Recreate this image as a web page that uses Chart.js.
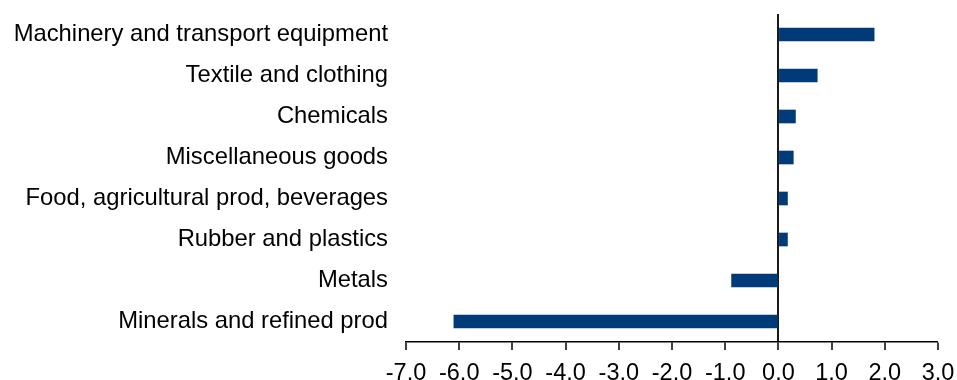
<!DOCTYPE html>
<html>
<head>
<meta charset="utf-8">
<script src="https://cdn.jsdelivr.net/npm/chart.js@4.4.1/dist/chart.umd.min.js"></script>
<style>
  html, body { margin: 0; padding: 0; background: #ffffff; }
  #wrap { width: 957px; height: 380px; }
</style>
</head>
<body>
<div id="wrap"><canvas id="chart"></canvas></div>
<script>
/* Change by product group, horizontal bars around a zero line */
const categories = [
    'Machinery and transport equipment',
    'Textile and clothing',
    'Chemicals',
    'Miscellaneous goods',
    'Food, agricultural prod, beverages',
    'Rubber and plastics',
    'Metals',
    'Minerals and refined prod',
];
const changeValues = [1.8, 0.73, 0.32, 0.28, 0.17, 0.17, -0.88, -6.1];
const xTicks = [-7, -6, -5, -4, -3, -2, -1, 0, 1, 2, 3];

const barColor = '#003a78';
const fontFamily = '"Liberation Sans", Arial, sans-serif';

new Chart(document.getElementById('chart'), {
    type: 'bar',
    data: {
        labels: categories,
        datasets: [{
            data: changeValues,
            backgroundColor: barColor,
            borderWidth: 0,
            barThickness: 13,
        }],
    },
    options: {
        indexAxis: 'y',
        responsive: true,
        maintainAspectRatio: false,
        animation: false,
        layout: { padding: { top: 14, right: 19, bottom: 0, left: 0 } },
        plugins: {
            legend: { display: false },
            tooltip: { enabled: false },
        },
        scales: {
            x: {
                min: -7,
                max: 3,
                afterBuildTicks: (scale) => {
                    scale.ticks = xTicks.map(v => ({ value: v }));
                },
                afterFit: (scale) => {
                    scale.height = 38;
                    // end labels may overhang; the outer padding covers them
                    scale.paddingLeft = 0;
                    scale.paddingRight = 0;
                },
                border: { display: true, color: '#000000', width: 1.5 },
                grid: {
                    drawOnChartArea: true,
                    color: (ctx) => (ctx.tick && ctx.tick.value === 0 ? '#1a1a1a' : 'rgba(0,0,0,0)'),
                    lineWidth: (ctx) => (ctx.tick && ctx.tick.value === 0 ? 2 : 0),
                    tickColor: '#000000',
                    tickLength: 8,
                    tickWidth: 1.5,
                },
                ticks: {
                    color: '#000000',
                    padding: 9,
                    maxRotation: 0,
                    font: { family: fontFamily, size: 23.5 },
                    callback: (v) => Number(v).toFixed(1),
                },
            },
            y: {
                afterFit: (scale) => {
                    scale.width = 406;
                    // keep label overflow from pushing the plot area down
                    scale.paddingTop = 0;
                    scale.paddingBottom = 0;
                },
                border: { display: false },
                grid: { display: false, drawTicks: false },
                ticks: {
                    color: '#000000',
                    padding: 18,
                    font: { family: fontFamily, size: 23.8 },
                },
            },
        },
    },
});
</script>
</body>
</html>
